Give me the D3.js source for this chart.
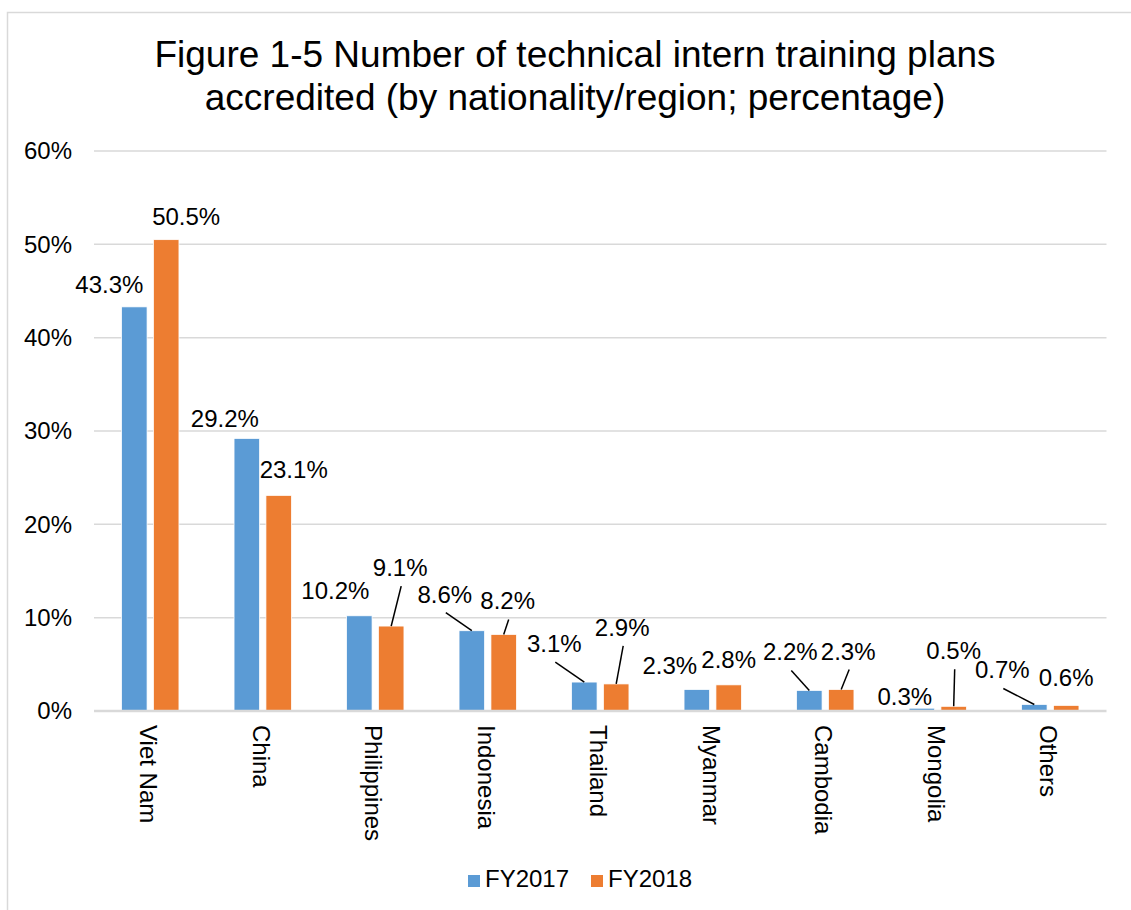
<!DOCTYPE html>
<html>
<head>
<meta charset="utf-8">
<script src="https://cdn.jsdelivr.net/npm/d3@7"></script>
<style>
  body { margin: 0; background: #fff; }
  svg { display: block; font-family: Arial, "Liberation Sans", sans-serif; }
</style>
</head>
<body>
<div id="chart"></div>
<script>
// data
const categories = ['Viet Nam', 'China', 'Philippines', 'Indonesia', 'Thailand', 'Myanmar', 'Cambodia', 'Mongolia', 'Others'];
const fy2017 = [43.3, 29.2, 10.2, 8.6, 3.1, 2.3, 2.2, 0.3, 0.7];
const fy2018 = [50.5, 23.1, 9.1, 8.2, 2.9, 2.8, 2.3, 0.5, 0.6];
const seriesNames = ['FY2017', 'FY2018'];
const yTicks = [0, 10, 20, 30, 40, 50, 60];
const titleLines = ['Figure 1-5 Number of technical intern training plans', 'accredited (by nationality/region; percentage)'];

// label placement (offset from bar top centre) as the labels were dragged in the original
const labelDx = [[-25, -22, -24, -27, -30, -27, -19, -17, -32], [20, 15, 9, 4, 6, 0, 7, 0, 0]];
const labelDy = [[-14, -11, -17, -28, -30, -16, -30, -3, -26], [-15, -17, -50, -25, -48, -17, -30, -47, -19]];
const leader = [[0, 0, 0, 1, 1, 0, 1, 0, 1], [0, 0, 1, 1, 1, 0, 1, 1, 0]];

const colors = ['#5b9bd5', '#ed7d31'];
const width = 1131, height = 910;
const plot = { left: 94, right: 1106.5, top: 151, bottom: 711 };
const fontSize = '24px';

const svg = d3.select('#chart').append('svg')
    .attr('width', width)
    .attr('height', height);

// chart frame (cut by the screenshot on the right and bottom)
svg.append('rect')
    .attr('x', 7.5).attr('y', 12.5)
    .attr('width', width + 20).attr('height', height + 20)
    .attr('fill', 'none')
    .attr('stroke', '#d9d9d9')
    .attr('stroke-width', 1.5);

svg.append('g')
    .selectAll('text')
    .data(titleLines)
    .join('text')
    .attr('x', 575)
    .attr('y', (d, i) => 67 + i * 43)
    .attr('text-anchor', 'middle')
    .style('font-size', '37px')
    .attr('fill', '#000')
    .text(d => d);

const x = d3.scaleBand()
    .domain(categories)
    .range([plot.left, plot.right]);

const xInner = d3.scaleBand()
    .domain(seriesNames)
    .range([-28.7, 28.7])
    .paddingInner(0.2);

const y = d3.scaleLinear()
    .domain([0, 60])
    .range([plot.bottom, plot.top]);

// gridlines
svg.append('g')
    .selectAll('line')
    .data(yTicks.filter(d => d > 0))
    .join('line')
    .attr('x1', plot.left).attr('x2', plot.right)
    .attr('y1', d => y(d)).attr('y2', d => y(d))
    .attr('stroke', '#d9d9d9')
    .attr('stroke-width', 1.5);

// y axis labels
const yAxis = svg.append('g')
    .attr('transform', `translate(${plot.left},0)`)
    .call(d3.axisLeft(y).tickValues(yTicks).tickFormat(d => d + '%').tickSize(0).tickPadding(22));
yAxis.select('.domain').remove();
yAxis.selectAll('text')
    .style('font-size', fontSize)
    .style('font-family', 'Arial, "Liberation Sans", sans-serif')
    .attr('fill', '#000');

const rows = categories.map((c, i) => ({ cat: c, i, values: [fy2017[i], fy2018[i]] }));

const groups = svg.append('g')
    .selectAll('g')
    .data(rows)
    .join('g')
    .attr('transform', d => `translate(${x(d.cat) + x.bandwidth() / 2},0)`);

groups.selectAll('rect')
    .data(d => d.values.map((v, s) => ({ v, s })))
    .join('rect')
    .attr('x', d => xInner(seriesNames[d.s]))
    .attr('y', d => y(d.v))
    .attr('width', xInner.bandwidth())
    .attr('height', d => y(0) - y(d.v))
    .attr('fill', d => colors[d.s])
    .attr('stroke', '#fff')
    .attr('stroke-width', 0.75);

// x axis line
svg.append('line')
    .attr('x1', plot.left).attr('x2', plot.right)
    .attr('y1', plot.bottom).attr('y2', plot.bottom)
    .attr('stroke', '#d9d9d9')
    .attr('stroke-width', 2.5);

// data labels + leader lines
const labels = groups.selectAll('g.lbl')
    .data(d => d.values.map((v, s) => ({ v, s, i: d.i })))
    .join('g')
    .attr('class', 'lbl');

labels.filter(d => leader[d.s][d.i])
    .append('line')
    .attr('x1', d => xInner(seriesNames[d.s]) + xInner.bandwidth() / 2 + labelDx[d.s][d.i] + 1)
    .attr('y1', d => y(d.v) + labelDy[d.s][d.i] + 10)
    .attr('x2', d => xInner(seriesNames[d.s]) + xInner.bandwidth() / 2)
    .attr('y2', d => y(d.v))
    .attr('stroke', '#000')
    .attr('stroke-width', 1.5);

labels.append('text')
    .attr('x', d => xInner(seriesNames[d.s]) + xInner.bandwidth() / 2 + labelDx[d.s][d.i])
    .attr('y', d => y(d.v) + labelDy[d.s][d.i])
    .attr('text-anchor', 'middle')
    .style('font-size', fontSize)
    .attr('fill', '#000')
    .text(d => d.v.toFixed(1) + '%');

// category labels, rotated
svg.append('g')
    .selectAll('text')
    .data(categories)
    .join('text')
    .attr('transform', d => `translate(${x(d) + x.bandwidth() / 2},725) rotate(90)`)
    .attr('dy', '0.42em')
    .attr('text-anchor', 'start')
    .style('font-size', fontSize)
    .attr('fill', '#000')
    .text(d => d);

// legend
const legend = svg.append('g')
    .attr('transform', 'translate(468,887)');
const legendX = [0, 123];
const item = legend.selectAll('g')
    .data(seriesNames)
    .join('g')
    .attr('transform', (d, i) => `translate(${legendX[i]},0)`);
item.append('rect')
    .attr('x', 0).attr('y', -12)
    .attr('width', 12).attr('height', 12)
    .attr('fill', (d, i) => colors[i]);
item.append('text')
    .attr('x', 17).attr('y', 0)
    .style('font-size', fontSize)
    .attr('fill', '#000')
    .text(d => d);
</script>
</body>
</html>
